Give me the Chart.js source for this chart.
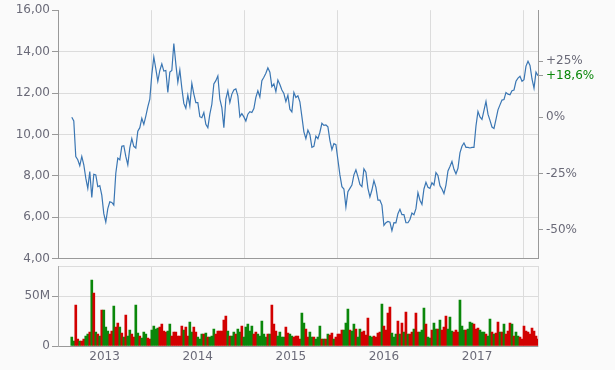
<!DOCTYPE html>
<html>
<head>
<meta charset="utf-8">
<script src="https://cdn.jsdelivr.net/npm/chart.js@4.4.1/dist/chart.umd.min.js"></script>
<style>
  html, body { margin: 0; padding: 0; background: #fafafa; }
  #wrap { position: relative; width: 615px; height: 370px; }
  canvas { position: absolute; left: 0; }
</style>
</head>
<body>
<div id="wrap">
  <canvas id="priceChart" width="615" height="269" style="top:0"></canvas>
  <canvas id="volChart" width="615" height="113" style="top:257px"></canvas>
</div>
<script>
// time range (decimal years), roughly one sample every 8 days
var firstDay = 2013.148;
var lastDay = 2018.155;
var axisStart = 2013;

var prices = [
  10.83, 10.65, 8.94, 8.78, 8.49, 8.94, 8.54, 7.89, 7.40, 8.21, 6.96, 8.08, 8.05, 7.48, 7.53, 7.07, 6.18, 5.77, 6.42, 6.75,
  6.72, 6.59, 8.13, 8.86, 8.78, 9.43, 9.46, 8.94, 8.54, 9.35, 9.80, 9.43, 9.35, 10.16, 10.33, 10.78, 10.49, 10.89, 11.33, 11.71,
  12.90, 13.74, 13.17, 12.57, 13.09, 13.41, 13.06, 13.09, 12.03, 13.01, 13.09, 14.39, 13.41, 12.52,
  13.12, 12.24, 11.50, 11.27, 11.90, 11.38, 12.47, 11.95, 11.54, 11.54, 10.86, 10.81, 11.06, 10.49, 10.33, 10.98, 11.46, 12.44, 12.60, 12.83,
  11.71, 11.30, 10.33, 11.71, 12.11, 11.54, 11.95, 12.15, 12.20, 11.87, 10.86, 11.01, 10.85, 10.65, 10.98, 11.10, 11.06, 11.25, 11.79, 12.11,
  11.81, 12.60, 12.76, 12.96, 13.22, 13.01, 12.31, 12.44, 12.07, 12.63, 12.41, 12.15, 11.98, 11.59, 11.90, 11.22, 11.09, 12.03, 11.79,
  11.87, 11.58, 10.86, 10.13, 9.80, 10.21, 10.00, 9.38, 9.43, 9.92, 9.80, 10.11, 10.54, 10.44, 10.46, 10.37, 9.72, 9.27, 9.56, 9.51,
  8.78, 8.05, 7.48, 7.37, 6.50, 7.24, 7.40, 7.56, 8.05, 8.29, 7.97, 7.59, 7.48, 8.34, 8.18, 7.40, 6.99, 7.32, 7.77, 7.45,
  6.83, 6.83, 6.59, 5.61, 5.74, 5.80, 5.77, 5.36, 5.75, 5.74, 6.18, 6.39, 6.13, 6.13, 5.74, 5.74, 5.90, 6.21, 6.13,
  6.42, 7.19, 6.83, 6.63, 7.37, 7.69, 7.45, 7.40, 7.67, 7.56, 8.16, 8.02, 7.53, 7.37, 7.15, 7.56, 8.24, 8.46, 8.70, 8.32,
  8.10, 8.37, 9.11, 9.43, 9.59, 9.38, 9.38, 9.35, 9.38, 9.38, 10.41, 11.11, 10.85, 10.73, 11.17, 11.60, 10.98, 10.68, 10.36, 10.29,
  10.73, 11.19, 11.43, 11.66, 11.69, 12.03, 11.95, 11.92, 12.11, 12.15, 12.57, 12.72, 12.81, 12.57, 12.65, 13.30, 13.54, 13.33, 12.68, 12.24,
  13.01, 12.84
];

// volume in millions, same dates as prices
var volumes = [
  9, 5, 41, 7, 5, 5, 7, 10, 12, 14, 66, 53, 14, 12, 10, 36, 36, 19, 15, 12,
  15, 40, 19, 23, 19, 13, 9, 31, 10, 16, 12, 9, 41, 13, 10, 8, 14, 12, 8, 7,
  16, 20, 17, 18, 19, 22, 15, 14, 15, 22, 10, 14, 14, 10, 10, 20, 16, 19, 10, 24,
  14, 19, 14, 9, 7, 12, 12, 13, 9, 9, 10, 17, 12, 15, 15, 15, 26, 30, 15, 10,
  10, 14, 12, 17, 14, 20, 9, 19, 22, 15, 20, 12, 14, 12, 10, 25, 12, 9, 12, 12,
  41, 22, 15, 10, 14, 9, 9, 19, 13, 12, 10, 9, 10, 10,
  7, 33, 23, 17, 9, 14, 9, 9, 7, 9, 20, 7, 7, 7, 12, 11, 13, 7, 9, 12,
  12, 16, 16, 23, 37, 16, 15, 22, 17, 9, 17, 14, 15, 11, 28, 10, 9, 10, 9, 13,
  14, 42, 20, 16, 33, 39, 13, 9, 12, 25, 12, 23, 14, 34, 12, 12, 14, 17, 33, 14,
  14, 16, 38, 22, 9, 8, 16, 23, 17, 17, 26, 16, 19, 30, 17, 29, 15, 14, 16, 14,
  46, 20, 16, 16, 17, 24, 23, 22, 17, 18, 16, 14, 14, 12, 10, 27, 14, 12, 13, 24,
  14, 14, 22, 12, 15, 23, 22, 10, 14, 10, 9, 7, 20, 15, 14, 12, 18, 15, 10, 7
];

// g = up day, r = down day
var volDirection = (
  'ggrrgrrggrgrgrgrgggrrgrrgrgrggrrggrgggrr' +
  'ggggrrrrggrrrrrrgrrggrrgggrgrgggrrrrrrgr' +
  'ggrggrgggggrrgggggrgrrrggggrrggrr' +
  'rrggrrggrgggrgrgrrgrrrrgggrggrggrrrrggrrrrg' +
  'rrrrgggrgrgrgrrgrrgggrggrggrgrrrgggrrrgg' +
  'grgggrrrgggrggrgrrgrgrrrgrggr'
).split('');

var priceTicks = [4, 6, 8, 10, 12, 14, 16];
var changeTicks = [-50, -25, 0, 25];
var volumeTicks = [0, 50, 80];
var yearGrid = [2014, 2015, 2016, 2017, 2018];
var yearLabels = [2013, 2014, 2015, 2016, 2017];

var labelColor = '#6a6a78';
var gridColor = '#dcdcdc';
var axisColor = '#999999';

Chart.defaults.font.family = "'DejaVu Sans', Verdana, sans-serif";
Chart.defaults.font.size = 12;
Chart.defaults.color = labelColor;

var step = (lastDay - firstDay) / (prices.length - 1);
var pricePoints = prices.map(function(p, i) {
  return { x: firstDay + i * step, y: p };
});
var volPoints = volumes.map(function(v, i) {
  return { x: firstDay + i * step, y: v };
});
var volColors = volumes.map(function(v, i) {
  return volDirection[i] === 'g' ? '#0a870a' : '#d20000';
});

var basePrice = prices[0];
var lastChange = (prices[prices.length - 1] / basePrice - 1) * 100;

function fmtPct(v) {
  var r = Math.round(v * 10) / 10;
  return (r > 0 ? '+' : '') + String(r).replace('.', ',') + '%';
}

new Chart('priceChart', {
  type: 'line',
  data: {
    datasets: [{
      data: pricePoints,
      borderColor: '#3a76b3',
      borderWidth: 1.2,
      pointRadius: 0,
      tension: 0,
      yAxisID: 'y'
    }]
  },
  options: {
    responsive: false,
    animation: false,
    devicePixelRatio: 1,
    layout: { padding: { top: 10, left: 0, right: 0, bottom: 0 } },
    plugins: { legend: { display: false }, tooltip: { enabled: false } },
    scales: {
      x: {
        type: 'linear',
        min: axisStart,
        max: lastDay,
        afterBuildTicks: function(s) { s.ticks = yearGrid.map(function(v) { return { value: v }; }); },
        ticks: { display: false },
        grid: { color: gridColor, drawTicks: false },
        border: { color: axisColor },
        afterFit: function(s) { s.height = 2; }
      },
      y: {
        position: 'left',
        min: 4,
        max: 16,
        afterBuildTicks: function(s) { s.ticks = priceTicks.map(function(v) { return { value: v }; }); },
        ticks: {
          padding: 2,
          callback: function(v) { return v.toFixed(2).replace('.', ','); }
        },
        grid: {
          color: function(ctx) { return ctx.tick && ctx.tick.value === 16 ? 'rgba(0,0,0,0)' : gridColor; },
          tickLength: 6,
          tickColor: axisColor
        },
        border: { color: axisColor },
        afterFit: function(s) { s.width = 58; }
      },
      pct: {
        position: 'right',
        min: (4 / basePrice - 1) * 100,
        max: (16 / basePrice - 1) * 100,
        afterBuildTicks: function(s) {
          var t = changeTicks.concat([lastChange]);
          s.ticks = t.map(function(v) { return { value: v }; });
        },
        ticks: {
          padding: 3,
          callback: function(v) { return fmtPct(v); },
          color: function(ctx) { return ctx.tick && ctx.tick.value === lastChange ? '#0a870a' : labelColor; }
        },
        grid: { drawOnChartArea: false, tickLength: 5, tickColor: axisColor },
        border: { color: axisColor },
        afterFit: function(s) { s.width = 77; }
      }
    }
  }
});

new Chart('volChart', {
  type: 'bar',
  data: {
    datasets: [{
      data: volPoints,
      backgroundColor: volColors,
      borderWidth: 0,
      barPercentage: 1,
      categoryPercentage: 1
    }]
  },
  options: {
    responsive: false,
    animation: false,
    devicePixelRatio: 1,
    layout: { padding: { top: 7, left: 0, right: 0, bottom: 0 } },
    plugins: { legend: { display: false }, tooltip: { enabled: false } },
    scales: {
      x: {
        type: 'linear',
        offset: false,
        min: axisStart,
        max: lastDay,
        afterBuildTicks: function(s) {
          var t = [];
          yearLabels.forEach(function(y) { t.push({ value: y + 0.5 }); t.push({ value: y + 1 }); });
          s.ticks = t;
        },
        ticks: {
          autoSkip: false,
          maxRotation: 0,
          padding: 4,
          callback: function(v) { return v % 1 ? String(Math.floor(v)) : ''; }
        },
        grid: {
          offset: false,
          drawTicks: false,
          color: function(ctx) { return ctx.tick && ctx.tick.value % 1 === 0 ? gridColor : 'rgba(0,0,0,0)'; }
        },
        border: { color: axisColor },
        afterFit: function(s) { s.height = 24; }
      },
      y: {
        min: 0,
        max: 80,
        afterBuildTicks: function(s) { s.ticks = volumeTicks.map(function(v) { return { value: v }; }); },
        ticks: {
          padding: 2,
          callback: function(v) { return v === 80 ? '' : (v === 0 ? '0' : v + 'M'); }
        },
        grid: {
          color: gridColor,
          tickLength: 6,
          tickColor: function(ctx) { return ctx.tick && ctx.tick.value === 80 ? 'rgba(0,0,0,0)' : axisColor; }
        },
        border: { color: '#aaaaaa' },
        afterFit: function(s) { s.width = 58; }
      },
      side: {
        position: 'right',
        ticks: { display: false },
        grid: { display: false },
        border: { color: gridColor },
        afterFit: function(s) { s.width = 77; }
      }
    }
  }
});
</script>
</body>
</html>
